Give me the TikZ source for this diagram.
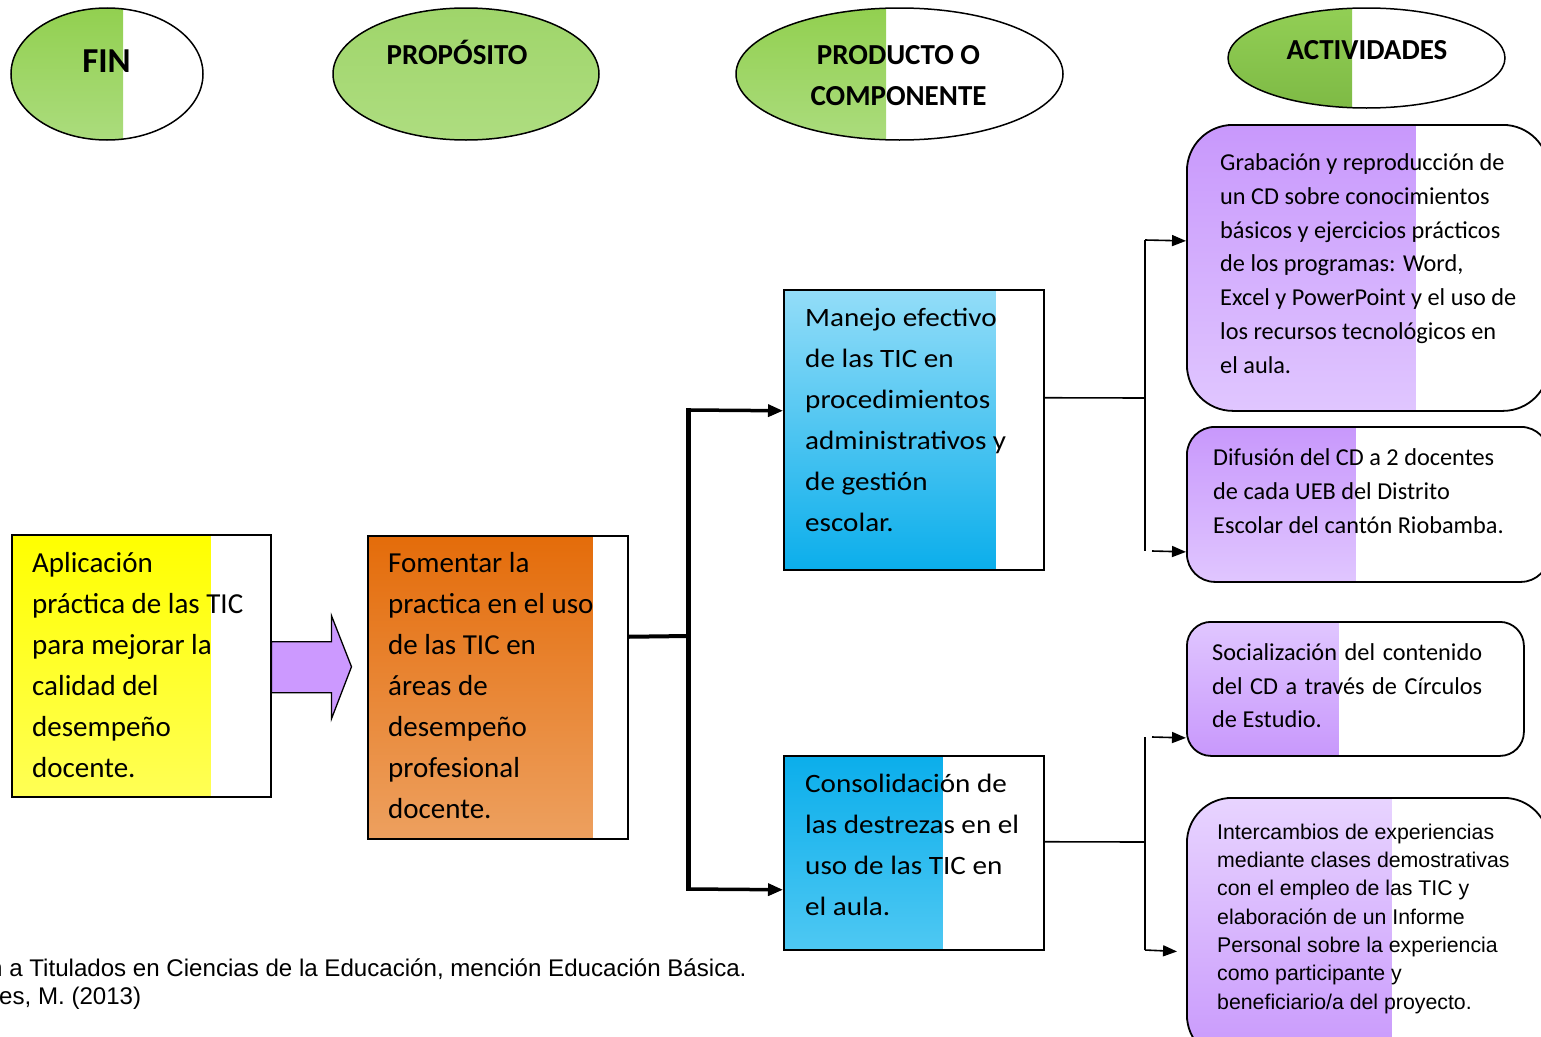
\documentclass[tikz,border=0pt]{standalone}
\usepackage{fontspec}
\setmainfont{Carlito}
\newfontfamily\arialf{Liberation Sans}
\newfontfamily\widecal[FakeStretch=1.1]{Carlito}
\usetikzlibrary{shapes.geometric,arrows.meta,calc}

\definecolor{yelTop}{HTML}{FFFF00}
\definecolor{yelBot}{HTML}{FFFF55}
\definecolor{orTop}{HTML}{E46C0A}
\definecolor{orBot}{HTML}{EDA05F}
\definecolor{bluA}{HTML}{93DDF8}
\definecolor{bluB}{HTML}{0BAEEB}
\definecolor{bluC}{HTML}{4EC8F3}
\definecolor{grnTop}{HTML}{92D050}
\definecolor{grnBot}{HTML}{ABDC7D}
\definecolor{grnPTop}{HTML}{9FD56A}
\definecolor{grnPBot}{HTML}{AEDD80}
\definecolor{grnActTop}{HTML}{92CF55}
\definecolor{grnActBot}{HTML}{7EBA45}
\definecolor{purDark}{HTML}{C898FC}
\definecolor{purLight}{HTML}{E0C6FF}
\definecolor{purPale}{HTML}{E8D4FF}
\definecolor{arrowPur}{HTML}{CC99FF}

% multi-line nodes below are anchored at the baseline of their last line
\tikzset{
  partfill/.style n args={3}{path picture={
      \shade[sharp corners, top color=#1,bottom color=#2]
        (path picture bounding box.north west) rectangle
        ($(path picture bounding box.south west)+(#3,0)$);}},
  ovalhead/.style={ellipse, draw=black, line width=1.5pt, inner sep=0pt},
  headtext/.style={anchor=base, align=center, inner sep=0pt,
      font=\bfseries\fontsize{29}{41}\selectfont},
  sqbox/.style={rectangle, draw=black, line width=1.5pt, inner sep=0pt, anchor=north west},
  rndbox/.style={rectangle, draw=black, line width=1.8pt, inner sep=0pt, anchor=north west},
  boxtext/.style={anchor=base west, align=left, inner sep=0pt},
  heavyline/.style={line width=5pt},
  heavyarrow/.style={line width=3.5pt, -{Triangle[length=15pt,width=12pt]}},
  thinline/.style={line width=1.6pt},
  thinarrow/.style={line width=1.6pt, -{Triangle[length=14pt,width=11pt]}},
}

\begin{document}
\begin{tikzpicture}[x=1pt,y=-1pt]
\useasboundingbox (0,0) rectangle (1541,1036);
\clip (0,0) rectangle (1541,1036);

% ---- column headings ----
\node[ovalhead, minimum width=192pt, minimum height=132pt,
      partfill={grnTop}{grnBot}{112}] (finOval) at (107,74) {};
\node[headtext, font=\bfseries\fontsize{35}{41}\selectfont] (finLabel) at (106.5,72) {FIN};

\node[ovalhead, minimum width=266pt, minimum height=132pt,
      partfill={grnPTop}{grnPBot}{266}] (propOval) at (466,74) {};
\node[headtext] (propLabel) at (457,64) {PROPÓSITO};

\node[ovalhead, minimum width=327pt, minimum height=132pt,
      partfill={grnTop}{grnBot}{150}] (prodOval) at (899.5,74) {};
\node[headtext] (prodLabel) at (898.5,105) {PRODUCTO O\\COMPONENTE};

\node[ovalhead, minimum width=277pt, minimum height=100pt,
      partfill={grnActTop}{grnActBot}{124}] (actOval) at (1366.5,58) {};
\node[headtext] (actLabel) at (1367,59) {ACTIVIDADES};

% ---- fin and purpose ----
\node[sqbox, minimum width=259pt, minimum height=262pt,
      partfill={yelTop}{yelBot}{199}] (finBox) at (11,534) {};
\node[boxtext, font=\fontsize{29}{41}\selectfont] (finText) at (32,777)
  {Aplicación\\práctica de las TIC\\para mejorar la\\calidad del\\desempeño\\docente.};

\node[sqbox, minimum width=260pt, minimum height=303pt,
      partfill={orTop}{orBot}{225}] (propBox) at (367,535) {};
\node[boxtext, font=\fontsize{29}{41}\selectfont] (propText) at (388,818)
  {Fomentar la\\practica en el uso\\de las TIC en\\áreas de\\desempeño\\profesional\\docente.};

% block arrow from the aim to the purpose
\draw[fill=arrowPur, line width=1.3pt, line join=miter]
  ([yshift=24pt]finBox.east) -- ++(60,0) -- ++(0,-26) -- ++(20,51)
  -- ++(-20,52) -- ++(0,-26) -- ++(-60,0) -- cycle;

% ---- components ----
\node[sqbox, minimum width=260pt, minimum height=280pt,
      partfill={bluA}{bluB}{212}] (compOne) at (783,289) {};
\node[boxtext, font=\widecal\fontsize{26.5}{41}\selectfont] (compOneText) at (805,531)
  {Manejo efectivo\\de las TIC en\\procedimientos\\administrativos y\\de gestión\\escolar.};

\node[sqbox, minimum width=260pt, minimum height=194pt,
      partfill={bluB}{bluC}{159}] (compTwo) at (783,755) {};
\node[boxtext, font=\widecal\fontsize{26.5}{41}\selectfont] (compTwoText) at (805,915)
  {Consolidación de\\las destrezas en el\\uso de las TIC en\\el aula.};

% ---- activities ----
\node[rndbox, rounded corners=46pt, minimum width=362pt, minimum height=286pt,
      partfill={purDark}{purLight}{229}] (actOne) at (1186,124) {};
\node[boxtext, font=\fontsize{24.3}{33.7}\selectfont] (actOneText) at (1220,373)
  {Grabación y reproducción de\\un CD sobre conocimientos\\básicos y ejercicios prácticos\\de los programas: Word,\\Excel y PowerPoint y el uso de\\los recursos tecnológicos en\\el aula.};

\node[rndbox, rounded corners=28pt, minimum width=362pt, minimum height=155pt,
      partfill={purDark}{purLight}{169}] (actTwo) at (1186,426) {};
\node[boxtext, font=\fontsize{24.3}{33.6}\selectfont] (actTwoText) at (1213,533)
  {Difusión del CD a 2 docentes\\de cada UEB del Distrito\\Escolar del cantón Riobamba.};

\node[rndbox, rounded corners=24pt, minimum width=337pt, minimum height=134pt,
      partfill={purLight}{purDark}{152}] (actThree) at (1186,621) {};
\node[boxtext, font=\fontsize{24.3}{33.3}\selectfont] (actThreeText) at (1212,727.5)
  {\makebox[270pt][s]{Socialización del contenido}\\
   \makebox[270pt][s]{del CD a través de Círculos}\\de Estudio.};

\node[rndbox, rounded corners=45pt, minimum width=362pt, minimum height=262pt,
      partfill={purPale}{purDark}{205}] (actFour) at (1186,797) {};
\node[boxtext, font=\arialf\fontsize{21.3}{28.3}\selectfont] (actFourText) at (1217,1009)
  {Intercambios de experiencias\\mediante clases demostrativas\\con el empleo de las TIC y\\elaboración de un Informe\\Personal sobre la experiencia\\como participante y\\beneficiario/a del proyecto.};

% ---- connectors: purpose to components ----
\coordinate (trunk) at (688,636);
\coordinate (trunkTop) at (688,410);
\coordinate (trunkBot) at (688,889);
\draw[line width=4pt] ([yshift=50.5pt]propBox.east) -- (trunk);
\draw[heavyline] ([yshift=2pt]trunkTop) -- ([yshift=-2pt]trunkBot);
\draw[heavyarrow] (trunkTop) -- ([yshift=19pt]compOne.west);
\draw[heavyarrow] (trunkBot) -- ([yshift=-37pt]compTwo.west);

% ---- connectors: components to activities ----
\coordinate (forkA) at (1145,398);
\coordinate (forkATop) at (1145,240);
\coordinate (forkABot) at (1145,551);
\draw[thinline] ([yshift=32pt]compOne.east) -- (forkA);
\draw[thinline] (forkATop) -- (forkABot);
\draw[thinarrow] (forkATop) -- ([yshift=27pt]actOne.west);
\draw[thinarrow] ([xshift=7pt]forkABot) -- ([yshift=-47.5pt]actTwo.west);

\coordinate (forkB) at (1145,842);
\coordinate (forkBTop) at (1145,737);
\coordinate (forkBBot) at (1145,950);
\draw[thinline] ([yshift=11pt]compTwo.east) -- (forkB);
\draw[thinline] (forkBTop) -- (forkBBot);
\draw[thinarrow] ([xshift=7pt]forkBTop) -- ([yshift=-49pt]actThree.west);
\draw[thinarrow, shorten >=9pt] (forkBBot) -- ([yshift=-23pt]actFour.west);

% ---- source note ----
\node[boxtext, font=\arialf\fontsize{24.1}{28}\selectfont] (sourceNote) at (-11,1004)
  {n a Titulados en Ciencias de la Educación, mención Educación Básica.\\\hspace*{10pt}es, M. (2013)};

\end{tikzpicture}
\end{document}
